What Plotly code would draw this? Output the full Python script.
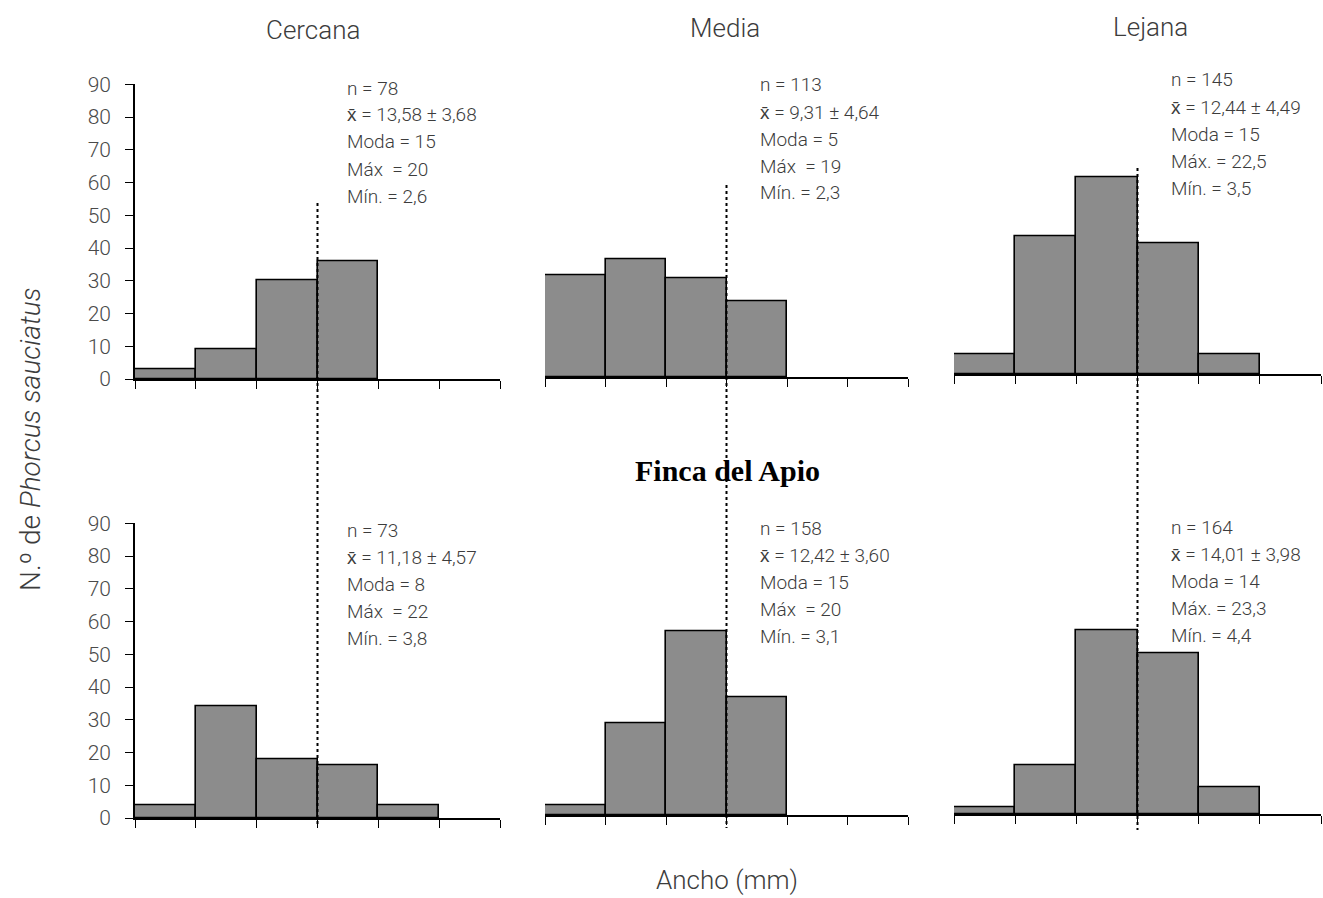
import plotly.graph_objects as go

# Counts per width class (six classes along the x axis), by zone and site row
bins = [0.5, 1.5, 2.5, 3.5, 4.5, 5.5]
cercana_top = [3, 9, 30, 36, 0, 0]
media_top = [31, 36, 30, 23, 0, 0]
lejana_top = [6, 42, 60, 40, 6, 0]
cercana_bottom = [4, 34, 18, 16, 4, 0]
media_bottom = [3, 28, 56, 36, 0, 0]
lejana_bottom = [2, 15, 56, 49, 8, 0]

zones = ["Cercana", "Media", "Lejana"]
y_ticks = [0, 10, 20, 30, 40, 50, 60, 70, 80, 90]
ref_edge = 3  # class boundary marked by the dotted line

stats_top = [
    ["n = 78", "x\u0304 = 13,58 \u00b1 3,68", "Moda = 15", "Máx\u00a0 = 20", "Mín. = 2,6"],
    ["n = 113", "x\u0304 = 9,31 \u00b1 4,64", "Moda = 5", "Máx\u00a0 = 19", "Mín. = 2,3"],
    ["n = 145", "x\u0304 = 12,44 \u00b1 4,49", "Moda = 15", "Máx. = 22,5", "Mín. = 3,5"],
]
stats_bottom = [
    ["n = 73", "x\u0304 = 11,18 \u00b1 4,57", "Moda = 8", "Máx\u00a0 = 22", "Mín. = 3,8"],
    ["n = 158", "x\u0304 = 12,42 \u00b1 3,60", "Moda = 15", "Máx\u00a0 = 20", "Mín. = 3,1"],
    ["n = 164", "x\u0304 = 14,01 \u00b1 3,98", "Moda = 14", "Máx. = 23,3", "Mín. = 4,4"],
]

W, H = 1323, 898
BAR_FILL = "#8c8c8c"
TXT = "#3c3c3c"
PLAIN = "Roboto, Liberation Sans, sans-serif"

# pixel layout of each panel: x start/end and baseline
col_px = [(135, 500), (545, 908), (954, 1321)]
top_base = [379, 377, 374]
bot_base = [818, 815, 814]
unit_px = 3.274  # pixels per count
line_step = 27   # spacing of the summary lines


def px_x(p):
    return p / W


def px_y(p):
    return 1 - p / H


fig = go.Figure()

rows = [
    (top_base, [cercana_top, media_top, lejana_top], stats_top, [88, 85, 80]),
    (bot_base, [cercana_bottom, media_bottom, lejana_bottom], stats_bottom, [530, 528, 527]),
]
text_x = [345, 758, 1169]

axis_n = 0
axis_ids = {}
for r, (bases, series, stats, first_line) in enumerate(rows):
    for c in range(3):
        axis_n += 1
        xa = "x" if axis_n == 1 else f"x{axis_n}"
        ya = "y" if axis_n == 1 else f"y{axis_n}"
        axis_ids[(r, c)] = (xa, ya)
        vals = series[c]
        xs = [b for b, v in zip(bins, vals) if v > 0]
        ys = [v for v in vals if v > 0]
        fig.add_trace(go.Bar(
            x=xs, y=ys, width=1, xaxis=xa, yaxis=ya, showlegend=False,
            marker=dict(color=BAR_FILL, line=dict(color="black", width=1.6)),
        ))
        x0, x1 = col_px[c]
        base = bases[c]
        top = base - 90 * unit_px
        xkey = "xaxis" if axis_n == 1 else f"xaxis{axis_n}"
        ykey = "yaxis" if axis_n == 1 else f"yaxis{axis_n}"
        fig.layout[xkey] = dict(
            domain=[px_x(x0), px_x(x1)], range=[0, 6], anchor=ya,
            tickvals=list(range(7)), ticks="outside", ticklen=8, tickwidth=1.4,
            tickcolor="black", showticklabels=False, showline=True,
            linecolor="black", linewidth=1.6, showgrid=False, zeroline=False,
            fixedrange=True, automargin=False,
        )
        ycfg = dict(
            domain=[px_y(base), px_y(top)], range=[0, 90], anchor=xa,
            showgrid=False, zeroline=False, fixedrange=True, automargin=False,
        )
        if c == 0:
            ycfg.update(
                tickvals=y_ticks, ticks="outside", ticklen=8, tickwidth=1.4,
                tickcolor="black", showline=True, linecolor="black",
                linewidth=1.6, ticklabelstandoff=10,
                tickfont=dict(family=PLAIN, size=21, color="#4a4a4a", weight=300),
            )
        else:
            ycfg.update(visible=False)
        fig.layout[ykey] = ycfg

        # summary statistics, one line per annotation
        for k, line in enumerate(stats[c]):
            fig.add_annotation(
                xref="paper", yref="paper", x=px_x(text_x[c]),
                y=px_y(first_line[c] + k * line_step),
                xanchor="left", yanchor="middle", align="left", showarrow=False,
                text=line,
                font=dict(family=PLAIN, size=19, color=TXT, weight=300),
            )

# dotted reference lines running through both rows of each column
line_span = [(203, 826), (185, 828), (168, 830)]
for c in range(3):
    xa = axis_ids[(0, c)][0]
    y_top, y_bot = line_span[c]
    fig.add_shape(
        type="line", xref=xa, yref="paper", x0=ref_edge, x1=ref_edge,
        y0=px_y(y_top), y1=px_y(y_bot), layer="above",
        line=dict(color="black", width=2, dash="dot"),
    )

# column titles
title_pos = [(313, 30), (725, 28), (1150, 27)]
for name, (tx, ty) in zip(zones, title_pos):
    fig.add_annotation(
        xref="paper", yref="paper", x=px_x(tx), y=px_y(ty),
        xanchor="center", yanchor="middle", showarrow=False, text=name,
        font=dict(family=PLAIN, size=26, color=TXT, weight=300),
    )

fig.add_annotation(
    xref="paper", yref="paper", x=px_x(727), y=px_y(470),
    xanchor="center", yanchor="middle", showarrow=False,
    text="<b>Finca del Apio</b>",
    font=dict(family="Liberation Serif, DejaVu Serif, serif", size=30, color="black"),
)
fig.add_annotation(
    xref="paper", yref="paper", x=px_x(727), y=px_y(880),
    xanchor="center", yanchor="middle", showarrow=False, text="Ancho (mm)",
    font=dict(family=PLAIN, size=26, color=TXT, weight=300),
)
fig.add_annotation(
    xref="paper", yref="paper", x=px_x(31), y=px_y(440),
    xanchor="center", yanchor="middle", showarrow=False, textangle=-90,
    text="N.\u00ba de <i>Phorcus sauciatus</i>",
    font=dict(family=PLAIN, size=28, color=TXT, weight=300),
)

fig.update_layout(
    width=W, height=H,
    margin=dict(l=0, r=0, t=0, b=0, pad=0, autoexpand=False),
    paper_bgcolor="white", plot_bgcolor="white", bargap=0,
)

fig.write_html("out.html")
